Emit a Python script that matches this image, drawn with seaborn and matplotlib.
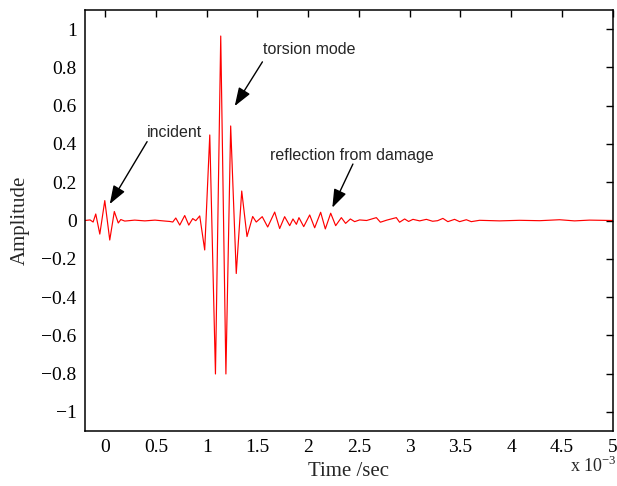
import numpy as np
import pandas as pd
import matplotlib
matplotlib.use("Agg")
import matplotlib.pyplot as plt
import seaborn as sns
from matplotlib.ticker import FixedLocator, FuncFormatter

# Received signal: time in milliseconds, amplitude (normalised)
time_ms = [
    -0.200, -0.150, -0.120, -0.094, -0.054, -0.005, 0.044, 0.089, 0.128, 0.153,
    0.192, 0.290, 0.390, 0.490, 0.590, 0.635, 0.665, 0.695, 0.734, 0.783,
    0.823, 0.862, 0.892, 0.931, 0.980, 1.030, 1.086, 1.138, 1.189, 1.236,
    1.291, 1.345, 1.397, 1.453, 1.488, 1.547, 1.601, 1.670, 1.719, 1.768,
    1.818, 1.850, 1.884, 1.909, 1.956, 2.015, 2.064, 2.123, 2.169, 2.222,
    2.271, 2.327, 2.369, 2.416, 2.458, 2.507, 2.576, 2.672, 2.712, 2.775,
    2.869, 2.901, 2.951, 2.990, 3.033, 3.099, 3.165, 3.227, 3.276, 3.328,
    3.377, 3.443, 3.493, 3.559, 3.608, 3.690, 3.887, 4.084, 4.281, 4.478,
    4.626, 4.773, 5.000,
]
amplitude = [
    0.000, 0.003, -0.008, 0.034, -0.071, 0.104, -0.102, 0.047, -0.013, 0.005,
    -0.003, 0.002, -0.002, 0.002, -0.003, -0.005, -0.008, 0.013, -0.024, 0.026,
    -0.024, 0.010, -0.001, 0.024, -0.154, 0.447, -0.802, 0.964, -0.802, 0.494,
    -0.277, 0.154, -0.084, 0.021, -0.008, 0.020, -0.034, 0.044, -0.042, 0.020,
    -0.027, 0.008, -0.020, 0.015, -0.032, 0.029, -0.038, 0.043, -0.044, 0.038,
    -0.027, 0.015, -0.015, 0.008, -0.006, 0.003, 0.000, 0.015, -0.009, 0.002,
    0.015, -0.009, 0.008, -0.005, 0.006, -0.002, 0.006, -0.004, -0.001, 0.011,
    -0.006, 0.006, -0.006, 0.004, -0.006, 0.001, -0.002, 0.001, -0.001, 0.004,
    -0.002, 0.002, 0.000,
]

x_ticks_ms = [0, 0.5, 1, 1.5, 2, 2.5, 3, 3.5, 4, 4.5, 5]
y_ticks = [-1, -0.8, -0.6, -0.4, -0.2, 0, 0.2, 0.4, 0.6, 0.8, 1]

# Annotations: label, text position (ms, amp), arrow tail (ms, amp), arrow tip (ms, amp)
notes = [
    ("incident", (0.406, 0.459), (0.412, 0.412), (0.044, 0.086)),
    ("torsion mode", (1.552, 0.891), (1.549, 0.829), (1.276, 0.598)),
    ("reflection from damage", (1.621, 0.342), (2.441, 0.295), (2.238, 0.067)),
]

df = pd.DataFrame({"t": np.asarray(time_ms) * 1e-3, "a": amplitude})

sns.set_style("white")
plt.rcParams["font.family"] = ["Liberation Serif", "DejaVu Serif"]

fig = plt.figure(figsize=(6.17, 4.86), dpi=100)
ax = fig.add_axes([85 / 617, 1 - 431 / 486, (612.5 - 85) / 617, (431 - 10) / 486])

sns.lineplot(data=df, x="t", y="a", ax=ax, color="#ff0000", linewidth=0.85,
             sort=False, estimator=None)

ax.set_xlim(-0.2e-3, 5e-3)
ax.set_ylim(-1.1, 1.1)
ax.xaxis.set_major_locator(FixedLocator([v * 1e-3 for v in x_ticks_ms]))
ax.xaxis.set_major_formatter(FuncFormatter(lambda v, p: f"{v * 1e3:g}"))
ax.yaxis.set_major_locator(FixedLocator(y_ticks))
ax.yaxis.set_major_formatter(FuncFormatter(lambda v, p: f"{v:g}".replace("-", "\u2212")))

ax.tick_params(direction="in", length=5, width=1.0, top=True, right=True,
               labelsize=14, colors="black", pad=6)
for s in ax.spines.values():
    s.set_visible(True)
    s.set_color("black")
    s.set_linewidth(1.1)

ax.set_xlabel("Time /sec", fontsize=15, labelpad=4)
ax.set_ylabel("Amplitude", fontsize=15, labelpad=8)
fig.text(570 / 617, 1 - 466 / 486, "x 10$^{\\mathregular{-3}}$", fontsize=13,
         ha="left", va="center")

for label, txt_pos, tail, tip in notes:
    ax.text(txt_pos[0] * 1e-3, txt_pos[1], label, fontsize=11.5,
            family=["Liberation Sans", "DejaVu Sans"], ha="left", va="center")
    ax.annotate("", xy=(tip[0] * 1e-3, tip[1]), xytext=(tail[0] * 1e-3, tail[1]),
                arrowprops=dict(arrowstyle="-|>,head_length=0.7,head_width=0.25",
                                color="black", lw=1.0, mutation_scale=16,
                                shrinkA=0, shrinkB=0))

fig.savefig("out.png", dpi=100)
